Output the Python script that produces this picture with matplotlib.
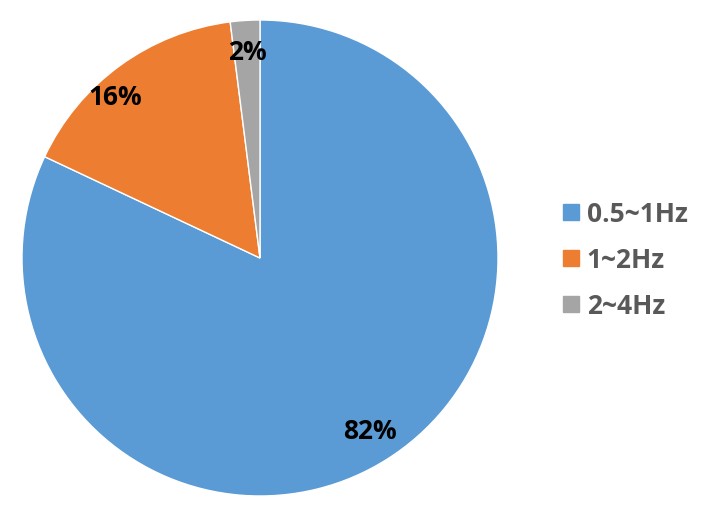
import matplotlib
matplotlib.use("Agg")
import matplotlib.pyplot as plt
from matplotlib.lines import Line2D
import numpy as np

categories = ["0.5~1Hz", "1~2Hz", "2~4Hz"]
values = [82, 16, 2]
colors = ["#5B9BD5", "#ED7D31", "#A5A5A5"]

plt.rcParams['font.family'] = ['Open Sans', 'DejaVu Sans']

fig = plt.figure(figsize=(7.2, 5.2), dpi=100)
# pie centre at (260,258) px, radius 238 px
W, H = 720, 520
cx, cy, r = 260, 258, 238
ax = fig.add_axes([(cx - r) / W, (H - cy - r) / H, 2 * r / W, 2 * r / H])
wedges, texts, autotexts = ax.pie(
    values, colors=colors, startangle=90, counterclock=False,
    autopct=lambda p: f"{p:.0f}%", pctdistance=0.87, radius=1.0,
    wedgeprops=dict(edgecolor="white", linewidth=1.0),
    textprops=dict(fontsize=19, fontweight="bold", color="black"))
# label placement tweaks (radius, angle offset in degrees)
tweaks = [(0.865, 0.0), (0.91, 6.0), (0.867, 0.0)]
for w, t, (rad, off) in zip(wedges, autotexts, tweaks):
    ang = np.deg2rad((w.theta1 + w.theta2) / 2 + off)
    t.set_position((rad * np.cos(ang), rad * np.sin(ang)))
ax.set_xlim(-1, 1)
ax.set_ylim(-1, 1)
ax.set_aspect("equal")
ax.axis("off")

handles = [Line2D([0], [0], marker="s", linestyle="none", markersize=11,
                  markerfacecolor=c, markeredgecolor=c) for c in colors]
leg = fig.legend(handles, categories, loc="center left",
                 bbox_to_anchor=(534 / W, 1 - 260 / H), frameon=False,
                 prop=dict(size=19, weight="bold"), labelcolor="#595959",
                 handletextpad=0.1, labelspacing=0.72, handlelength=1.0)

fig.savefig("out.png", dpi=100)
